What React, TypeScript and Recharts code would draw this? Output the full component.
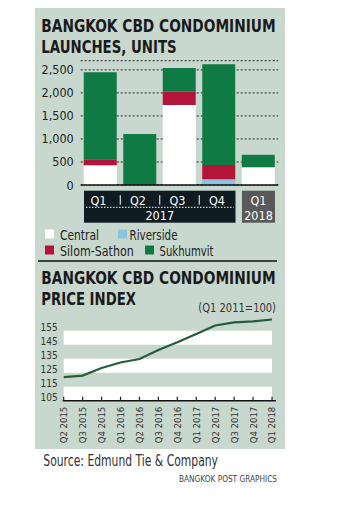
import React from "react";
import {
  BarChart,
  Bar,
  XAxis,
  YAxis,
  CartesianGrid,
  LineChart,
  Line,
  ReferenceArea,
} from "recharts";

// launches, units (2017 quarters + Q1 2018)
const periods = ["Q1 2017", "Q2 2017", "Q3 2017", "Q4 2017", "Q1 2018"];
const central = [430, 0, 1740, 0, 385];
const riverside = [0, 0, 0, 125, 0];
const silomSathon = [130, 0, 290, 310, 0];
const sukhumvit = [1890, 1110, 510, 2190, 270];
const launchTicks = [0, 500, 1000, 1500, 2000, 2500];

// price index (Q1 2011 = 100)
const indexQuarters = [
  "Q2 2015", "Q3 2015", "Q4 2015", "Q1 2016", "Q2 2016", "Q3 2016",
  "Q4 2016", "Q1 2017", "Q2 2017", "Q3 2017", "Q4 2017", "Q1 2018",
];
const priceIndex = [121.9, 122.9, 128.4, 132.3, 134.8, 141.2, 146.7, 152.6, 158.7, 160.9, 161.6, 163];
const indexTicks = [105, 115, 125, 135, 145, 155];
const whiteBands = [[105, 115], [125, 135], [145, 155]];

const launchData = periods.map((p, i) => ({
  period: p,
  central: central[i],
  riverside: riverside[i],
  silom: silomSathon[i],
  sukhumvit: sukhumvit[i],
}));

const indexData = indexQuarters.map((q, i) => ({ quarter: q, value: priceIndex[i] }));

const FONT = "'Liberation Sans Narrow', 'DejaVu Sans Condensed', 'Arial Narrow', sans-serif";
const PANEL = "#c8d8ce";
const GREEN = "#107a44";
const RED = "#b4143a";
const BLUE = "#8cc4de";
const BAND = 39.5;
const BAR = 33;

const LaunchXTick = (props: any) => {
  const { x, y, payload } = props;
  const index = props.index ?? payload.index;
  const [q, yr] = String(payload.value).split(" ");
  const top = y + 5.7;
  return (
    <g fontFamily={FONT} fontSize={12.5}>
      {index === 0 && (
        <g>
          <rect x={x - BAR / 2} y={top} width={3 * BAND + BAR} height={32} fill="#0e1c22" />
          <line
            x1={x - BAR / 2 + 2}
            x2={x + 3 * BAND + BAR / 2 - 2}
            y1={top + 16.6}
            y2={top + 16.6}
            stroke="#fff"
            strokeDasharray="1.5 1.5"
          />
          <text x={x + 1.5 * BAND} y={top + 25} fill="#fff" textAnchor="middle" dominantBaseline="central">
            {yr}
          </text>
        </g>
      )}
      {index === 4 && (
        <g>
          <rect x={x - BAR / 2} y={top} width={BAR} height={32} fill="#595959" />
          <text x={x} y={top + 25} fill="#fff" textAnchor="middle" dominantBaseline="central">
            {yr}
          </text>
        </g>
      )}
      {index < 3 && (
        <line x1={x + BAND / 2} x2={x + BAND / 2} y1={top + 4.5} y2={top + 14} stroke="#fff" strokeWidth={1} />
      )}
      <text x={index === 4 ? x : x - 2} y={top + 9.3} fill="#fff" textAnchor="middle" dominantBaseline="central">
        {q}
      </text>
    </g>
  );
};

const LaunchYTick = ({ x, y, payload }: any) => (
  <text x={x} y={y} textAnchor="end" dominantBaseline="central" fontFamily={FONT} fontSize={12.5} fill="#222">
    {Number(payload.value).toLocaleString("en-US")}
  </text>
);

const IndexXTick = ({ x, y, payload }: any) => (
  <g>
    <line x1={x} x2={x} y1={y} y2={y - 4} stroke="#222" strokeWidth={1.2} />
    <text
      transform={`rotate(-90 ${x} ${y + 6})`}
      x={x}
      y={y + 6}
      textAnchor="end"
      dominantBaseline="central"
      fontFamily={FONT}
      fontSize={9.5}
      fill="#333"
    >
      {payload.value}
    </text>
  </g>
);

const IndexYTick = ({ x, y, payload }: any) => (
  <text x={x} y={y - 3} textAnchor="end" dominantBaseline="central" fontFamily={FONT} fontSize={10} fill="#333">
    {payload.value}
  </text>
);

export default function App() {
  return (
    <div style={{ position: "absolute", left: 0, top: 0, width: 364, height: 510, background: "#fff" }}>
      <div style={{ position: "absolute", left: 35, top: 8, width: 250, height: 441, background: PANEL }} />

      <div style={{ position: "absolute", left: 0, top: 0 }}>
        <BarChart
          width={364}
          height={230}
          data={launchData}
          barSize={BAR}
          margin={{ top: 60.7, right: 85.75, left: 0, bottom: 5 }}
        >
          <CartesianGrid vertical={false} stroke="#222" strokeDasharray="2 2" />
          <XAxis
            dataKey="period"
            interval={0}
            height={40}
            tickSize={0}
            tickMargin={0}
            tickLine={false}
            axisLine={{ stroke: "#111", strokeWidth: 1.5 }}
            tick={<LaunchXTick />}
          />
          <YAxis
            width={80.75}
            domain={[0, 2700]}
            ticks={launchTicks}
            interval={0}
            axisLine={false}
            tickLine={false}
            tickSize={0}
            tickMargin={7}
            tick={<LaunchYTick />}
          />
          <Bar dataKey="central" stackId="a" fill="#ffffff" isAnimationActive={false} />
          <Bar dataKey="riverside" stackId="a" fill={BLUE} isAnimationActive={false} />
          <Bar dataKey="silom" stackId="a" fill={RED} isAnimationActive={false} />
          <Bar dataKey="sukhumvit" stackId="a" fill={GREEN} isAnimationActive={false} />
        </BarChart>
      </div>

      <div style={{ position: "absolute", left: 0, top: 300 }}>
        <LineChart
          width={364}
          height={150}
          data={indexData}
          margin={{ top: 16.7, right: 88, left: 0, bottom: 4.3 }}
        >
          {whiteBands.map(([a, b]) => (
            <ReferenceArea key={a} y1={a} y2={b} fill="#ffffff" fillOpacity={1} stroke="none" />
          ))}
          <XAxis
            dataKey="quarter"
            interval={0}
            height={45}
            padding={{ left: 1, right: 4 }}
            tickSize={0}
            tickMargin={0}
            tickLine={false}
            axisLine={{ stroke: "#111", strokeWidth: 1.5 }}
            tick={<IndexXTick />}
          />
          <YAxis
            width={62.7}
            domain={[105, 165]}
            ticks={indexTicks}
            interval={0}
            axisLine={false}
            tickLine={false}
            tickSize={0}
            tickMargin={5}
            tick={<IndexYTick />}
          />
          <Line
            type="linear"
            dataKey="value"
            stroke="#245c3e"
            strokeWidth={2.2}
            dot={false}
            isAnimationActive={false}
          />
        </LineChart>
      </div>

      <svg
        width={364}
        height={510}
        style={{ position: "absolute", left: 0, top: 0, pointerEvents: "none" }}
        fontFamily={FONT}
      >
        <g fontWeight="bold" fontSize={18.5} fill="#1a1a1a">
          <text x={41.3} y={31.7} textLength={234.4} lengthAdjust="spacingAndGlyphs">BANGKOK CBD CONDOMINIUM</text>
          <text x={41.3} y={53.3} textLength={135.4} lengthAdjust="spacingAndGlyphs">LAUNCHES, UNITS</text>
          <text x={41.3} y={284.3} textLength={234.4} lengthAdjust="spacingAndGlyphs">BANGKOK CBD CONDOMINIUM</text>
          <text x={41.3} y={305} textLength={94.7} lengthAdjust="spacingAndGlyphs">PRICE INDEX</text>
        </g>

        <g fontSize={13.5} fill="#222" dominantBaseline="central">
          <rect x={45} y={229.5} width={9} height={9} fill="#ffffff" />
          <text x={60} y={234.5} textLength={39} lengthAdjust="spacingAndGlyphs">Central</text>
          <rect x={118} y={229.5} width={9} height={9} fill={BLUE} />
          <text x={129.5} y={234.5} textLength={48} lengthAdjust="spacingAndGlyphs">Riverside</text>
          <rect x={45} y={245.5} width={9} height={9} fill={RED} />
          <text x={60} y={250.5} textLength={73.7} lengthAdjust="spacingAndGlyphs">Silom-Sathon</text>
          <rect x={145} y={245.5} width={9} height={9} fill={GREEN} />
          <text x={159.5} y={250.5} textLength={54} lengthAdjust="spacingAndGlyphs">Sukhumvit</text>
        </g>

        <line x1={38} x2={277} y1={261} y2={261} stroke="#111" strokeWidth={1.5} />

        <text x={198.3} y={307} dominantBaseline="central" fontSize={13} fill="#333" textLength={77.7} lengthAdjust="spacingAndGlyphs">
          (Q1 2011=100)
        </text>

        <text x={43.3} y={461} dominantBaseline="central" fontSize={15.5} fill="#333" textLength={174.7} lengthAdjust="spacingAndGlyphs">
          Source: Edmund Tie &amp; Company
        </text>
        <text x={179} y={478} dominantBaseline="central" fontSize={9.5} fill="#444" textLength={98} lengthAdjust="spacingAndGlyphs">
          BANGKOK POST GRAPHICS
        </text>
      </svg>
    </div>
  );
}
